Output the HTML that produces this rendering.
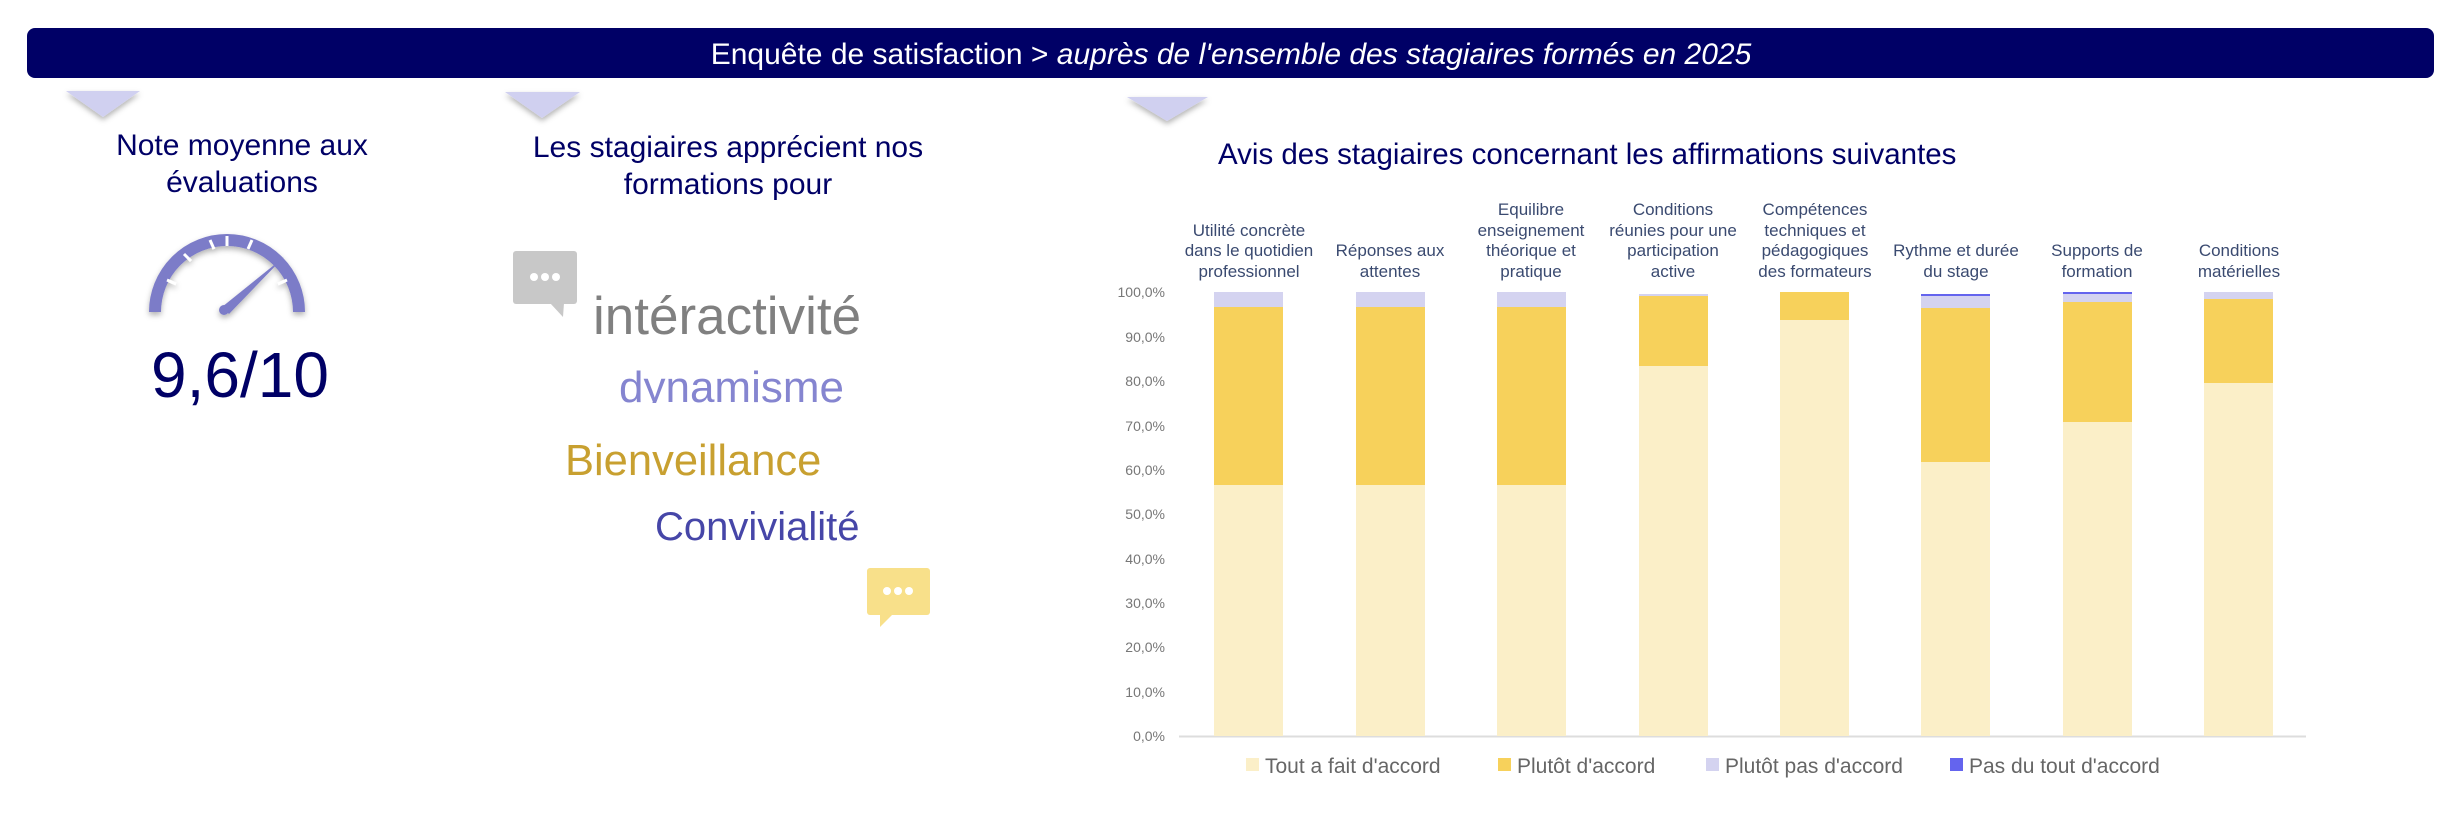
<!DOCTYPE html>
<html><head><meta charset="utf-8"><style>
html,body{margin:0;padding:0;background:#fff;}
svg{display:block;font-family:"Liberation Sans",sans-serif;}
</style></head><body>
<svg width="2446" height="814" viewBox="0 0 2446 814" xmlns="http://www.w3.org/2000/svg">
<defs>
<filter id="sh" x="-20%" y="-20%" width="140%" height="160%"><feDropShadow dx="0" dy="3" stdDeviation="3" flood-color="#000" flood-opacity="0.3"/></filter>
</defs>
<rect x="27" y="28" width="2407" height="50" rx="8" fill="#000066"/>
<text x="1231" y="64" text-anchor="middle" fill="#fff" font-size="30">Enquête de satisfaction &gt; <tspan font-style="italic">auprès de l'ensemble des stagiaires formés en 2025</tspan></text>
<g fill="#d0d0f0" filter="url(#sh)">
<polygon points="66,91 140,91 103,117"/>
<polygon points="505,92 580,92 542,118"/>
<polygon points="1127,97 1208,97 1167,121"/>
</g>
<g fill="#000066" font-size="30" text-anchor="middle">
<text x="242" y="155">Note moyenne aux</text>
<text x="242" y="192">évaluations</text>
<text x="728" y="157">Les stagiaires apprécient nos</text>
<text x="728" y="194">formations pour</text>
</g>
<g filter="url(#sh)">
<path d="M155,312 A72,72 0 1 1 299,312" fill="none" stroke="#7b7bc8" stroke-width="12"/>
<g stroke="#fff" stroke-width="3">
<line x1="167" y1="280" x2="176" y2="284"/><line x1="184" y1="254" x2="191" y2="261"/><line x1="210" y1="240" x2="214" y2="249"/><line x1="227" y1="236" x2="227" y2="246"/><line x1="252" y1="240" x2="248" y2="249"/><line x1="287" y1="280" x2="278" y2="284"/>
</g>
<path d="M222,307 L284,257 L229,314 Z" fill="#7b7bc8"/>
<circle cx="224" cy="310" r="5" fill="#7b7bc8"/>
</g>
<text x="240" y="397" text-anchor="middle" fill="#000066" font-size="64">9,6/10</text>
<rect x="513" y="251" width="64" height="53" rx="3" fill="#c8c8c8"/>
<polygon points="550,303 564,303 563,317" fill="#c8c8c8"/>
<g fill="#fff"><circle cx="534" cy="277" r="4"/><circle cx="545" cy="277" r="4"/><circle cx="556" cy="277" r="4"/></g>
<rect x="867" y="568" width="63" height="47" rx="3" fill="#f8e08a"/>
<polygon points="880,614 893,614 880,627" fill="#f8e08a"/>
<g fill="#fff"><circle cx="887" cy="591" r="4"/><circle cx="898" cy="591" r="4"/><circle cx="909" cy="591" r="4"/></g>
<text x="593" y="334" font-size="53" fill="#808080">intéractivité</text>
<svg x="600" y="340" width="300" height="63"><text x="19" y="62" font-size="44" fill="#8585d0">dynamisme</text></svg>
<text x="565" y="475" font-size="43.5" fill="#c8a030">Bienveillance</text>
<text x="655" y="540" font-size="40" fill="#4646a8">Convivialité</text>
<text x="1218" y="164" font-size="29.5" fill="#000066">Avis des stagiaires concernant les affirmations suivantes</text>
<g font-size="14" fill="#777" text-anchor="end">
<text x="1165" y="297">100,0%</text><text x="1165" y="342">90,0%</text><text x="1165" y="386">80,0%</text><text x="1165" y="431">70,0%</text><text x="1165" y="475">60,0%</text><text x="1165" y="519">50,0%</text><text x="1165" y="564">40,0%</text><text x="1165" y="608">30,0%</text><text x="1165" y="652">20,0%</text><text x="1165" y="697">10,0%</text><text x="1165" y="741">0,0%</text>
</g>
<line x1="1179" y1="736.5" x2="2306" y2="736.5" stroke="#ddd" stroke-width="2"/>
<g id="bars">
<rect x="1214" y="485" width="69" height="251" fill="#fbefc8"/><rect x="1214" y="307" width="69" height="178" fill="#f7d15b"/><rect x="1214" y="292" width="69" height="15" fill="#d4d3f0"/>
<rect x="1356" y="485" width="69" height="251" fill="#fbefc8"/><rect x="1356" y="307" width="69" height="178" fill="#f7d15b"/><rect x="1356" y="292" width="69" height="15" fill="#d4d3f0"/>
<rect x="1497" y="485" width="69" height="251" fill="#fbefc8"/><rect x="1497" y="307" width="69" height="178" fill="#f7d15b"/><rect x="1497" y="292" width="69" height="15" fill="#d4d3f0"/>
<rect x="1639" y="366" width="69" height="370" fill="#fbefc8"/><rect x="1639" y="296" width="69" height="70" fill="#f7d15b"/><rect x="1639" y="294" width="69" height="2" fill="#d4d3f0"/>
<rect x="1780" y="320" width="69" height="416" fill="#fbefc8"/><rect x="1780" y="292" width="69" height="28" fill="#f7d15b"/>
<rect x="1921" y="462" width="69" height="274" fill="#fbefc8"/><rect x="1921" y="308" width="69" height="154" fill="#f7d15b"/><rect x="1921" y="296" width="69" height="12" fill="#d4d3f0"/><rect x="1921" y="294" width="69" height="2" fill="#6464ee"/>
<rect x="2063" y="422" width="69" height="314" fill="#fbefc8"/><rect x="2063" y="302" width="69" height="120" fill="#f7d15b"/><rect x="2063" y="294" width="69" height="8" fill="#d4d3f0"/><rect x="2063" y="292" width="69" height="2" fill="#6464ee"/>
<rect x="2204" y="383" width="69" height="353" fill="#fbefc8"/><rect x="2204" y="299" width="69" height="84" fill="#f7d15b"/><rect x="2204" y="292" width="69" height="7" fill="#d4d3f0"/>
</g>
<g font-size="17" fill="#3a4a70" text-anchor="middle">
<text x="1249" y="236">Utilité concrète</text><text x="1249" y="256">dans le quotidien</text><text x="1249" y="277">professionnel</text>
<text x="1390" y="256">Réponses aux</text><text x="1390" y="277">attentes</text>
<text x="1531" y="215">Equilibre</text><text x="1531" y="236">enseignement</text><text x="1531" y="256">théorique et</text><text x="1531" y="277">pratique</text>
<text x="1673" y="215">Conditions</text><text x="1673" y="236">réunies pour une</text><text x="1673" y="256">participation</text><text x="1673" y="277">active</text>
<text x="1815" y="215">Compétences</text><text x="1815" y="236">techniques et</text><text x="1815" y="256">pédagogiques</text><text x="1815" y="277">des formateurs</text>
<text x="1956" y="256">Rythme et durée</text><text x="1956" y="277">du stage</text>
<text x="2097" y="256">Supports de</text><text x="2097" y="277">formation</text>
<text x="2239" y="256">Conditions</text><text x="2239" y="277">matérielles</text>
</g>
<g font-size="21" fill="#666">
<rect x="1246" y="758" width="13" height="13" fill="#fbefc8"/><text x="1265" y="773">Tout a fait d'accord</text>
<rect x="1498" y="758" width="13" height="13" fill="#f7d15b"/><text x="1517" y="773">Plutôt d'accord</text>
<rect x="1706" y="758" width="13" height="13" fill="#d4d3f0"/><text x="1725" y="773">Plutôt pas d'accord</text>
<rect x="1950" y="758" width="13" height="13" fill="#6464ee"/><text x="1969" y="773">Pas du tout d'accord</text>
</g>
</svg>
</body></html>
